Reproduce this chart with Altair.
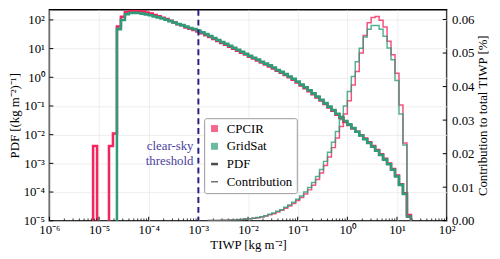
import altair as alt
import numpy as np
import pandas as pd

# ---------------- data ----------------
# histogram bin edges: 100 logarithmic bins between 1e-6 and 1e2 kg m-2
bin_edges = np.logspace(-6, 2, 101)

cpcir_pdf_first_bin = 11
cpcir_pdf = [4.0e-3, 0, 0, 0, 4.0e-3, 1.1e-2, 59, 129, 186, 204, 207, 204, 195, 182, 166, 148,
             135, 120, 107, 93, 81, 71, 65, 55, 49, 44.7, 39.8, 34.7, 29.5, 25.7, 21.9, 18.6,
             15.8, 13.8, 11.7, 10.0, 8.5, 7.2, 6.2, 5.2, 4.5, 3.9, 3.3, 2.8, 2.4, 2.04, 1.70,
             1.45, 1.20, 1.0, 0.83, 0.66, 0.52, 0.42, 0.33, 0.257, 0.20, 0.155, 0.117, 0.089,
             0.068, 0.050, 0.038, 0.028, 0.0219, 0.0166, 0.0126, 0.0095, 0.0073, 0.0054, 0.0040,
             0.0029, 0.00207, 0.00143, 0.00099, 0.00064, 0.00038, 0.000188, 0.00009, 0.0000158]

gridsat_pdf_first_bin = 17
gridsat_pdf = [47.9, 100, 158, 174, 176, 174, 166, 155, 145, 132, 123, 112, 102, 91, 81, 72, 66,
               59, 52, 48, 43, 37, 32, 27.5, 23.4, 20, 17, 14.8, 12.6, 10.7, 9.1, 7.8, 6.6, 5.6,
               4.8, 4.2, 3.5, 3.0, 2.6, 2.2, 1.8, 1.55, 1.29, 1.07, 0.89, 0.71, 0.56, 0.45, 0.355,
               0.275, 0.214, 0.166, 0.126, 0.095, 0.072, 0.054, 0.041, 0.030, 0.0229, 0.0170,
               0.0126, 0.0093, 0.0069, 0.0051, 0.0038, 0.00275, 0.00195, 0.00135, 0.00093, 0.0006,
               0.00035, 0.000178, 0.000085, 0.0000141]

contrib_first_bin = 40
cpcir_contrib = [0.000047, 0.000065, 0.000084, 0.00011, 0.00014, 0.00019, 0.00023, 0.0003,
                 0.00037, 0.00047, 0.00058, 0.00072, 0.00088, 0.0011, 0.0014, 0.0018, 0.0021,
                 0.0026, 0.0031, 0.0037, 0.0044, 0.0051, 0.0060, 0.0069, 0.0080, 0.0092, 0.0106,
                 0.0123, 0.0142, 0.0165, 0.0190, 0.0218, 0.0247, 0.0281, 0.0318, 0.0358, 0.0405,
                 0.0445, 0.0500, 0.0552, 0.0590, 0.0606, 0.0609, 0.0598, 0.0578, 0.0535, 0.0495,
                 0.0440, 0.0345, 0.0232, 0.001]
gridsat_contrib = [0.00005, 0.00007, 0.00009, 0.00012, 0.00015, 0.0002, 0.00025, 0.00032, 0.0004,
                   0.0005, 0.00062, 0.00077, 0.00095, 0.0012, 0.0015, 0.0019, 0.0023, 0.0028,
                   0.0033, 0.0040, 0.0047, 0.0055, 0.0064, 0.0074, 0.0086, 0.0099, 0.0114, 0.0132,
                   0.0153, 0.0177, 0.0204, 0.0234, 0.0266, 0.0302, 0.0342, 0.0385, 0.0430, 0.0474,
                   0.0514, 0.0548, 0.0571, 0.0582, 0.0582, 0.0571, 0.0550, 0.0515, 0.0480, 0.0418,
                   0.0318, 0.0226, 0.001]

legend_labels = ["CPCIR", "GridSat", "PDF", "Contribution"]
threshold = [1e-3]
threshold_label = ["clear-sky\nthreshold"]

x_decades = [1e-6, 1e-5, 1e-4, 1e-3, 1e-2, 1e-1, 1e0, 1e1, 1e2]
minor_mult = [2, 3, 4, 5, 6, 7, 8, 9]
y_decades = [1e-5, 1e-4, 1e-3, 1e-2, 1e-1, 1e0, 1e1, 1e2]
contrib_ticks = [0.0, 0.01, 0.02, 0.03, 0.04, 0.05, 0.06]

# ---------------- styling ----------------
W, H = 403, 214
FONT = "Liberation Serif"
PINK = "#F2275E"
GREEN = "#2E9C78"
INDIGO = "#2B1F87"
TXT = "#4A3F9F"
PDF_FLOOR = 1e-9


def steps(values, first_bin, floor, series):
    xs, ys = [bin_edges[first_bin]], [floor]
    for i, v in enumerate(values):
        k = first_bin + i
        v = v if v > 0 else floor
        xs += [bin_edges[k], bin_edges[k + 1]]
        ys += [v, v]
    xs.append(bin_edges[first_bin + len(values)])
    ys.append(floor)
    return pd.DataFrame({"x": xs, "y": ys, "i": range(len(xs)), "series": series})


pdf_red = steps(cpcir_pdf, cpcir_pdf_first_bin, PDF_FLOOR, "CPCIR")
pdf_green = steps(gridsat_pdf, gridsat_pdf_first_bin, PDF_FLOOR, "GridSat")
con_red = steps(cpcir_contrib, contrib_first_bin, 0.0, "CPCIR")
con_green = steps(gridsat_contrib, contrib_first_bin, 0.0, "GridSat")

xscale = alt.Scale(type="log", domain=[1e-6, 1e2], nice=False)
yscale = alt.Scale(type="log", domain=[1e-5, 10 ** 2.354], nice=False)
y2scale = alt.Scale(domain=[0, 0.0629], nice=False, zero=False)
color_scale = alt.Scale(domain=legend_labels, range=[PINK, GREEN, "black", "black"])
shape_scale = alt.Scale(domain=legend_labels,
                        range=["square", "square", "M-1,-0.36H1V0.36H-1Z", "M-1,-0.17H1V0.17H-1Z"])

e = "round(log(datum.value)/LN10)"
sup = ("'10' + (" + e + " < 0 ? '⁻' : '') + substring('⁰¹²³⁴⁵⁶⁷⁸⁹', abs(" + e + "), abs(" + e + ")+1)")

xaxis = alt.Axis(values=x_decades, labelExpr=sup, title="TIWP [kg m⁻²]", ticks=False,
                 domain=False, grid=True, gridColor="#e9e9e9", gridWidth=0.8,
                 labelOverlap=False, labelFlush=False, labelPadding=3, titlePadding=2,
                 labelFontSize=13, titleFontSize=13)
yaxis = alt.Axis(values=y_decades, labelExpr=sup, title="PDF [(kg m⁻²)⁻¹]", ticks=False,
                 domain=False, grid=True, gridColor="#e9e9e9", gridWidth=0.8,
                 labelOverlap=False, labelFlush=False, labelPadding=5, titlePadding=2,
                 labelFontSize=13, titleFontSize=13)
y2axis = alt.Axis(values=contrib_ticks, format=".2f", title="Contribution to total TIWP [%]",
                  orient="right", ticks=False, domain=False, grid=False,
                  labelOverlap=False, labelFlush=False, labelPadding=5, titlePadding=16,
                  titleAngle=270, labelFontSize=13, titleFontSize=13)

X = alt.X("x:Q", scale=xscale, axis=xaxis)


def pdf_line(df, color):
    return alt.Chart(df).mark_line(clip=True, strokeWidth=2.6, color=color).encode(
        x=X, y=alt.Y("y:Q", scale=yscale, axis=yaxis), order="i:Q")


def con_line(df, color):
    return alt.Chart(df).mark_line(clip=True, strokeWidth=1.5, color=color, opacity=0.8).encode(
        x=X, y=alt.Y("y:Q", scale=y2scale, axis=y2axis), order="i:Q")


xmaj = alt.Chart(pd.DataFrame({"x": x_decades})).mark_rule(color="black", strokeWidth=1).encode(
    x=X, y=alt.value(H), y2=alt.value(H - 4))
xmin = alt.Chart(pd.DataFrame({"x": [m * d for d in x_decades[:-1] for m in minor_mult]})).mark_rule(
    color="black", strokeWidth=0.8).encode(x=X, y=alt.value(H), y2=alt.value(H - 2.3))
ymaj = alt.Chart(pd.DataFrame({"y": y_decades})).mark_rule(color="black", strokeWidth=1).encode(
    y=alt.Y("y:Q", scale=yscale, axis=yaxis), x=alt.value(0), x2=alt.value(4))
rmaj = alt.Chart(pd.DataFrame({"y": contrib_ticks})).mark_rule(color="black", strokeWidth=1).encode(
    y=alt.Y("y:Q", scale=y2scale, axis=y2axis), x=alt.value(W - 4), x2=alt.value(W))

thr = pd.DataFrame({"x": threshold, "label": threshold_label})
rule = alt.Chart(thr).mark_rule(color=INDIGO, strokeWidth=2, strokeDash=[6, 4]).encode(x=X)
label = alt.Chart(thr).mark_text(align="right", baseline="middle", dx=-5, font=FONT, fontSize=13,
                                 color=TXT, lineBreak="\n", lineHeight=15).encode(
    x=X, y=alt.value(138), text="label:N")

legend_cfg = alt.Legend(title=None, orient="none", legendX=157, legendY=110)
leg = alt.Chart(pd.DataFrame({"label": legend_labels})).mark_point(filled=True, clip=True).encode(
    x=alt.value(-60), y=alt.value(-60),
    color=alt.Color("label:N", scale=color_scale, legend=legend_cfg, sort=legend_labels),
    shape=alt.Shape("label:N", scale=shape_scale, legend=legend_cfg, sort=legend_labels))

left = alt.layer(pdf_line(pdf_red, PINK), pdf_line(pdf_green, GREEN), xmin, xmaj, ymaj,
                 rule, label, leg)
right = alt.layer(con_line(con_red, PINK), con_line(con_green, GREEN), rmaj)

chart = alt.layer(left, right).resolve_scale(y="independent").properties(
    width=W, height=H,
    autosize=alt.AutoSizeParams(type="none"),
    padding={"left": 42, "top": 0, "right": 46, "bottom": 36},
).configure_axis(
    labelFont=FONT, titleFont=FONT, labelColor="black", titleColor="black",
    titleFontWeight="normal",
).configure_view(stroke="black", strokeWidth=1.5).configure_legend(
    labelFont=FONT, labelFontSize=13, labelColor="black", symbolSize=50, symbolStrokeWidth=0,
    padding=4, rowPadding=4, labelOffset=6, strokeColor="#999", fillColor="white",
    cornerRadius=2,
)

chart.save("out.html", embed_options={"renderer": "svg", "actions": False})
